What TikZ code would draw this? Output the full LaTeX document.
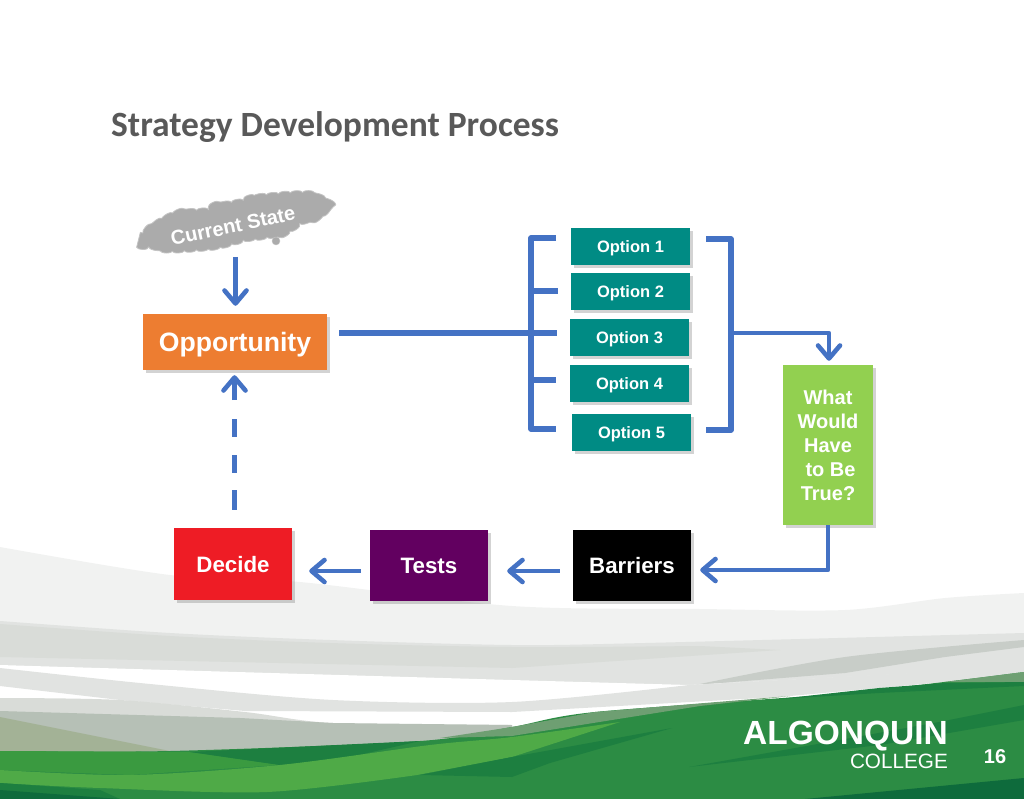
\documentclass[tikz,border=0pt]{standalone}
\usepackage{fontspec}
\setmainfont{Liberation Sans}
\newfontfamily\titlefont{Carlito}
\usetikzlibrary{arrows.meta,shadows,decorations.pathmorphing}
\definecolor{linkblue}{HTML}{4472C4}
\definecolor{oppcol}{HTML}{ED7D31}
\definecolor{optcol}{HTML}{008B84}
\definecolor{whatcol}{HTML}{92D050}
\definecolor{decidecol}{HTML}{EE1C25}
\definecolor{testcol}{HTML}{620060}
\definecolor{cloudcol}{HTML}{ABABAB}
\definecolor{titlecol}{HTML}{595959}
\definecolor{greya}{HTML}{F1F2F1}
\definecolor{greyb}{HTML}{E1E3E1}
\definecolor{greyc}{HTML}{D9DCD8}
\definecolor{greyd}{HTML}{C8CDC8}
\definecolor{greye}{HTML}{B6C0B6}
\definecolor{sage}{HTML}{A3B296}
\definecolor{greena}{HTML}{2C8C44}
\definecolor{greenb}{HTML}{3A9A40}
\definecolor{greenc}{HTML}{4FAA47}
\definecolor{greend}{HTML}{1D7F40}
\definecolor{greene}{HTML}{0E6B3C}
\definecolor{greenf}{HTML}{6E9F72}
\begin{document}
\begin{tikzpicture}[x=1pt,y=-1pt,
        box/.style={rectangle,inner sep=0pt,text=white,align=center,drop shadow={shadow xshift=2.5pt,shadow yshift=-3pt,opacity=.35}},
        opt/.style={box,fill=optcol,minimum width=119pt,minimum height=37pt,text height=12pt,text depth=0pt,font=\fontsize{16.5}{18}\selectfont\bfseries},
        step box/.style={box,minimum width=118pt,minimum height=71pt,text height=16pt,text depth=0pt,font=\fontsize{22.3}{24}\selectfont\bfseries},
        link/.style={draw=linkblue,line width=5.6pt,line join=round},
        arrow/.style={draw=linkblue,line width=4.6pt,line join=round,-{Straight Barb[length=13pt,width=22pt,line width=4.6pt,round]}}
      ]
      \useasboundingbox (0,0) rectangle (1024,799);
      % background bands
      \fill[greya] plot[smooth] coordinates {(0,547) (170,575) (300,582) (512,606) (700,609) (845,610) (945,598) (1024,593)} -- (1024,670) -- (0,670) -- cycle;
      \fill[greyb] plot[smooth] coordinates {(0,621) (170,633) (330,640) (512,645) (645,643) (1024,633)} -- (1024,690) -- (0,690) -- cycle;
      \fill[greyc] plot[smooth] coordinates {(0,624) (170,636) (330,643) (512,647) (700,646)} -- (780,650) -- (512,668) -- (0,657) -- cycle;
      \fill[greyd] plot[smooth] coordinates {(695,685) (845,657) (1024,640)} -- (1024,647) -- (945,657) -- (845,673) -- cycle;
      \fill[white] plot[smooth] coordinates {(0,665) (100,668) (512,680) (689,685)} -- (1024,668) -- (1024,760) -- (0,760) -- cycle;
      \fill[greyb] plot[smooth] coordinates {(0,668) (150,684) (333,700) (512,702) (689,685)} -- (1024,667) -- (1024,672) -- (945,682) -- (779,697) -- (512,712) -- (245,711) -- (120,700) -- (0,686) -- cycle;
      \fill[greyc] plot[smooth] coordinates {(0,698) (120,700) (245,712) (333,723) (512,725)} -- (512,760) -- (0,760) -- cycle;
      \fill[greye] (0,711) -- (240,718) -- (333,723) -- (512,725) -- (512,760) -- (0,760) -- cycle;
      \fill[sage] (0,717) -- (170,751) -- (0,755) -- cycle;
      \fill[greena] plot[smooth] coordinates {(0,751) (170,751) (420,741) (512,727) (595,712) (845,693) (1024,672)} -- (1024,799) -- (0,799) -- cycle;
      \fill[greenf] (440,738) -- (512,727) -- (595,712) -- (790,696) -- (700,706) -- (612,720) -- (512,736) -- cycle;
      \fill[greenf] (945,682) -- (1024,672) -- (1024,682) -- cycle;
      \fill[greend] (779,699) -- (879,688) -- (945,683) -- (1024,682) -- (1024,686) -- (879,693) -- cycle;
      \fill[greenb] (0,751) -- (190,752) -- (280,765) -- (130,775) -- (0,770) -- cycle;
      \fill[greend] (190,752) -- (420,741) -- (350,757) -- (280,765) -- cycle;
      \fill[greenc] plot[smooth] coordinates {(0,770) (130,775) (280,765) (430,745) (512,737) (620,722)} -- (512,757) -- plot[smooth] coordinates {(417,775) (267,792) (100,788) (0,783)} -- cycle;
      \fill[greend] (420,775) -- (512,757) -- (672,728) -- (550,763) -- (512,777) -- cycle;
      \fill[greend] (689,767) -- (812,745) -- (939,722) -- (1024,705) -- (1024,720) -- (880,745) -- cycle;
      \fill[greend] (0,783) -- (100,790) -- (120,799) -- (0,799) -- cycle;
      \fill[greene] (0,790) -- (120,799) -- (0,799) -- cycle;
      \fill[greene] (805,799) -- (1024,778) -- (1024,799) -- cycle;
      \node[font=\titlefont\fontsize{35.5}{36}\selectfont\bfseries,text=titlecol,anchor=west,inner sep=0pt] (title) at (111,127) {Strategy Development Process};
      % cloud
      \fill[cloudcol,draw=cloudcol!70!white,line width=.8pt,decorate,decoration={bumps,segment length=24pt,amplitude=2pt}] plot[smooth cycle] coordinates {(140,242) (143,233) (157,222) (177,212) (200,210) (213,205) (233,202) (250,197) (267,195) (290,193) (310,193) (323,198) (332,204) (328,210) (320,217) (303,223) (287,233) (267,237) (247,240) (220,247) (193,250) (170,251) (153,248) (142,247)};
      \node[circle,fill=cloudcol,draw=cloudcol!70!white,inner sep=0pt,minimum size=8pt] (puff) at (276,241) {};
      \node[text=white,font=\fontsize{20}{20}\selectfont\bfseries,rotate=12,inner sep=0pt] (current) at (233,226) {Current State};
      \node[box,fill=oppcol,minimum width=184pt,minimum height=56pt,text height=19pt,text depth=0pt,font=\fontsize{26.6}{30}\selectfont\bfseries] (opportunity) at (235,342) {Opportunity};
      \node[opt] (option1) at (630.5,246.5) {Option 1};
      \node[opt] (option2) at (630.5,291.5) {Option 2};
      \node[opt] (option3) at (629.5,337.5) {Option 3};
      \node[opt] (option4) at (629.5,383.5) {Option 4};
      \node[opt] (option5) at (631.5,432) {Option 5};
      \node[box,fill=whatcol,minimum width=90pt,minimum height=160pt,font=\fontsize{20}{24}\selectfont\bfseries] (what) at (828,445) {What\\Would\\Have\\\hspace*{5pt}to Be\\True?};
      \node[step box,fill=black] (barriers) at (632,565) {Barriers};
      \node[step box,fill=testcol] (tests) at (429,565) {Tests};
      \node[step box,fill=decidecol,minimum height=72pt] (decide) at (233,564) {Decide};
      \coordinate (currentfoot) at (235.5,257);
      \coordinate (lefttop) at (556,238);
      \coordinate (leftbot) at (556,429);
      \coordinate (rightop) at (706,239);
      \coordinate (rightbot) at (706,430);
      \coordinate (branch2) at (558,291);
      \coordinate (branch3) at (557,333);
      \coordinate (branch4) at (556,380);
      \coordinate (rightmid) at (731,333);
      \draw[link] (lefttop) -- (531,238) -- (531,429) -- (leftbot);
      \draw[link] (531,291) -- (branch2);
      \draw[link] ([xshift=12pt]opportunity.east |- branch3) -- (branch3);
      \draw[link] (531,380) -- (branch4);
      \draw[link] (rightop) -- (731,239) -- (731,430) -- (rightbot);
      \draw[arrow] (rightmid) -- (829,333) -- ([xshift=1pt,yshift=4pt]what.north);
      \draw[arrow] (currentfoot) -- ([xshift=.5pt,yshift=8pt]opportunity.north);
      \draw[arrow] (what.south) -- (828,570) -- ([xshift=9pt]barriers.east |- 0,570);
      \draw[arrow] ([xshift=-13pt]barriers.west |- 0,571) -- ([xshift=19pt]tests.east |- 0,571);
      \draw[arrow] ([xshift=-9pt]tests.west |- 0,571) -- ([xshift=17pt]decide.east |- 0,571);
      \draw[link,line width=5pt,dash pattern=on 20pt off 17pt on 18pt off 18pt on 18pt off 40pt] ([xshift=1.5pt,yshift=18pt]decide.north) -- (234.5,418);
      \draw[arrow] (234.5,400) -- ([xshift=-.5pt,yshift=-5pt]opportunity.south);
      \node[text=white,font=\fontsize{33.5}{34}\selectfont\bfseries,anchor=east,inner sep=0pt] (algonquin) at (948,736) {ALGONQUIN};
      \node[text=white,font=\fontsize{20.7}{22}\selectfont,anchor=east,inner sep=0pt] (college) at (948,761) {COLLEGE};
      \node[text=white,font=\fontsize{20}{22}\selectfont\bfseries,inner sep=0pt] (pagenum) at (995,757) {16};
    \end{tikzpicture}
\end{document}
